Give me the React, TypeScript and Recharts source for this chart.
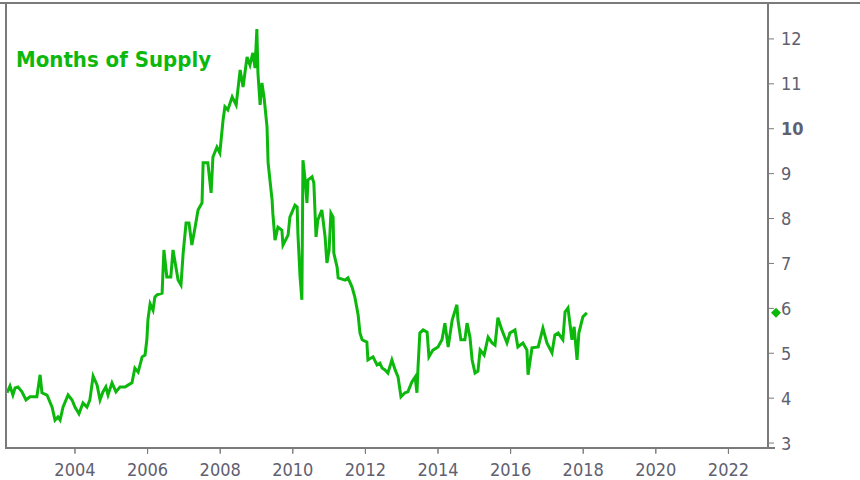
import { LineChart, Line, XAxis, YAxis, ReferenceDot } from 'recharts';

// decimal year of each reading
const dates = [
  2002.13, 2002.21, 2002.29, 2002.35, 2002.43, 2002.54, 2002.65, 2002.76, 2002.95, 2003.04,
  2003.09, 2003.23, 2003.37, 2003.45, 2003.53, 2003.59, 2003.67, 2003.81, 2003.92, 2004.00,
  2004.11, 2004.22, 2004.33, 2004.41, 2004.50, 2004.61, 2004.69, 2004.77, 2004.85, 2004.91,
  2005.02, 2005.13, 2005.24, 2005.38, 2005.46, 2005.57, 2005.65, 2005.74, 2005.85, 2005.93,
  2005.98, 2006.01, 2006.07, 2006.15, 2006.20, 2006.26, 2006.40, 2006.45, 2006.53, 2006.64,
  2006.70, 2006.78, 2006.84, 2006.92, 2006.98, 2007.06, 2007.14, 2007.22, 2007.31, 2007.39,
  2007.50, 2007.53, 2007.66, 2007.75, 2007.80, 2007.91, 2007.99, 2008.08, 2008.13, 2008.21,
  2008.33, 2008.44, 2008.55, 2008.63, 2008.74, 2008.82, 2008.90, 2008.96, 2009.01, 2009.04,
  2009.10, 2009.15, 2009.21, 2009.29, 2009.32, 2009.43, 2009.45, 2009.51, 2009.59, 2009.70,
  2009.73, 2009.87, 2009.92, 2010.06, 2010.12, 2010.14, 2010.20, 2010.25, 2010.28, 2010.34,
  2010.39, 2010.42, 2010.53, 2010.58, 2010.64, 2010.69, 2010.80, 2010.89, 2010.94, 2011.00,
  2011.05, 2011.11, 2011.13, 2011.22, 2011.25, 2011.44, 2011.52, 2011.63, 2011.71, 2011.80,
  2011.85, 2011.91, 2012.04, 2012.07, 2012.21, 2012.32, 2012.40, 2012.46, 2012.54, 2012.62,
  2012.73, 2012.82, 2012.90, 2012.98, 2013.09, 2013.17, 2013.28, 2013.37, 2013.42, 2013.45,
  2013.50, 2013.59, 2013.70, 2013.75, 2013.86, 2014.00, 2014.11, 2014.19, 2014.28, 2014.39,
  2014.52, 2014.55, 2014.63, 2014.74, 2014.80, 2014.88, 2014.94, 2015.02, 2015.10, 2015.16,
  2015.27, 2015.38, 2015.49, 2015.57, 2015.65, 2015.76, 2015.90, 2015.98, 2016.12, 2016.20,
  2016.34, 2016.45, 2016.48, 2016.59, 2016.76, 2016.89, 2017.00, 2017.14, 2017.22, 2017.31,
  2017.44, 2017.50, 2017.58, 2017.69, 2017.75, 2017.83, 2017.88, 2017.99, 2018.10,
];

const supply = [
  4.12, 4.27, 4.07, 4.23, 4.25, 4.14, 3.96, 4.03, 4.03, 4.52,
  4.12, 4.07, 3.80, 3.51, 3.58, 3.51, 3.80, 4.07, 3.96, 3.80,
  3.65, 3.89, 3.80, 3.96, 4.49, 4.29, 3.96, 4.14, 4.25, 4.07,
  4.34, 4.14, 4.25, 4.25, 4.29, 4.34, 4.67, 4.58, 4.92, 4.96,
  5.30, 5.75, 6.10, 5.96, 6.25, 6.30, 6.34, 7.30, 6.70, 6.70,
  7.30, 6.92, 6.63, 6.52, 7.23, 7.90, 7.90, 7.41, 7.81, 8.19,
  8.35, 9.24, 9.24, 8.57, 9.37, 9.59, 9.46, 10.20, 10.49, 10.42,
  10.71, 10.53, 11.31, 10.93, 11.60, 11.42, 11.69, 11.35, 12.22, 11.24,
  10.53, 11.02, 10.69, 10.04, 9.24, 8.41, 8.12, 7.52, 7.81, 7.74,
  7.41, 7.63, 8.03, 8.30, 8.26, 7.68, 6.70, 6.19, 9.30, 8.86,
  8.35, 8.86, 8.93, 8.79, 7.59, 7.97, 8.19, 7.59, 7.01, 7.30,
  8.12, 8.03, 7.23, 6.92, 6.68, 6.63, 6.68, 6.48, 6.25, 5.85,
  5.45, 5.30, 5.25, 4.85, 4.92, 4.74, 4.78, 4.67, 4.63, 4.56,
  4.85, 4.63, 4.47, 4.03, 4.12, 4.14, 4.36, 4.47, 4.12, 4.69,
  5.45, 5.52, 5.47, 4.92, 5.07, 5.14, 5.30, 5.67, 5.14, 5.74,
  6.08, 5.74, 5.30, 5.30, 5.67, 5.36, 4.85, 4.56, 4.60, 5.07,
  4.96, 5.36, 5.23, 5.18, 5.79, 5.52, 5.23, 5.45, 5.52, 5.14,
  5.23, 5.07, 4.52, 5.12, 5.14, 5.56, 5.23, 5.01, 5.41, 5.45,
  5.30, 5.92, 6.01, 5.30, 5.59, 4.85, 5.45, 5.81, 5.90,
];

const yearTicks = [2004, 2006, 2008, 2010, 2012, 2014, 2016, 2018, 2020, 2022];
const valueTicks = [3, 4, 5, 6, 7, 8, 9, 10, 11, 12];

const data = dates.map((t, i) => ({ t, v: supply[i] }));
const latest = supply[supply.length - 1];

const GREEN = '#0cb80c';
const AXIS = '#7a7a7a';
const LABEL = '#5f6070';
const FONT = "'DejaVu Sans Condensed', 'DejaVu Sans', sans-serif";

function YTick({ x, y, payload }: any) {
  return (
    <text x={x} y={y} dy="0.36em" textAnchor="start" fill={LABEL} fontSize={18}
      fontFamily={FONT} fontWeight={payload.value === 10 ? 'bold' : 'normal'}>
      {payload.value}
    </text>
  );
}

function XTick({ x, y, payload }: any) {
  return (
    <g>
      <line x1={x} x2={x} y1={449} y2={454} stroke={AXIS} />
      <text x={x} y={y} dy="0.71em" textAnchor="middle" fill={LABEL} fontSize={18} fontFamily={FONT}>
        {payload.value}
      </text>
    </g>
  );
}

function Diamond({ cx, cy }: any) {
  const r = 5;
  return <path d={`M${cx},${cy - r}L${cx + r},${cy}L${cx},${cy + r}L${cx - r},${cy}Z`} fill={GREEN} />;
}

export default function App() {
  return (
    <div style={{ position: 'absolute', left: 0, top: 0, width: 860, height: 480, background: '#fff' }}>
      <LineChart width={860} height={480} data={data} margin={{ top: 3, right: 32, left: 6, bottom: 0 }}>
        <XAxis
          dataKey="t"
          type="number"
          domain={[2002.1, 2023.09]}
          ticks={yearTicks}
          height={32}
          tickSize={5}
          tickMargin={10}
          tick={<XTick />}
          axisLine={{ stroke: AXIS, strokeWidth: 2 }}
          tickLine={{ stroke: AXIS }}
          allowDataOverflow
        />
        <YAxis
          orientation="right"
          type="number"
          domain={[2.89, 12.8]}
          ticks={valueTicks}
          width={60}
          tickSize={6}
          tickMargin={7}
          tick={<YTick />}
          axisLine={{ stroke: AXIS, strokeWidth: 2 }}
          tickLine={{ stroke: AXIS }}
          allowDataOverflow
        />
        <Line
          type="linear"
          dataKey="v"
          stroke={GREEN}
          strokeWidth={3}
          dot={false}
          isAnimationActive={false}
        />
        <ReferenceDot x={2023.31} y={latest} ifOverflow="visible" shape={<Diamond />} />
      </LineChart>
      {/* plot frame: top, left and bottom edges */}
      <div style={{ position: 'absolute', left: 0, top: 2, width: 860, height: 2, background: AXIS }} />
      <div style={{ position: 'absolute', left: 5, top: 2, width: 2, height: 447, background: AXIS }} />
      <div style={{ position: 'absolute', left: 5, top: 447, width: 770, height: 2, background: AXIS }} />
      <div style={{
        position: 'absolute', left: 16, top: 47, color: GREEN, fontFamily: FONT,
        fontWeight: 'bold', fontSize: 22, whiteSpace: 'nowrap',
      }}>
        Months of Supply
      </div>
    </div>
  );
}
